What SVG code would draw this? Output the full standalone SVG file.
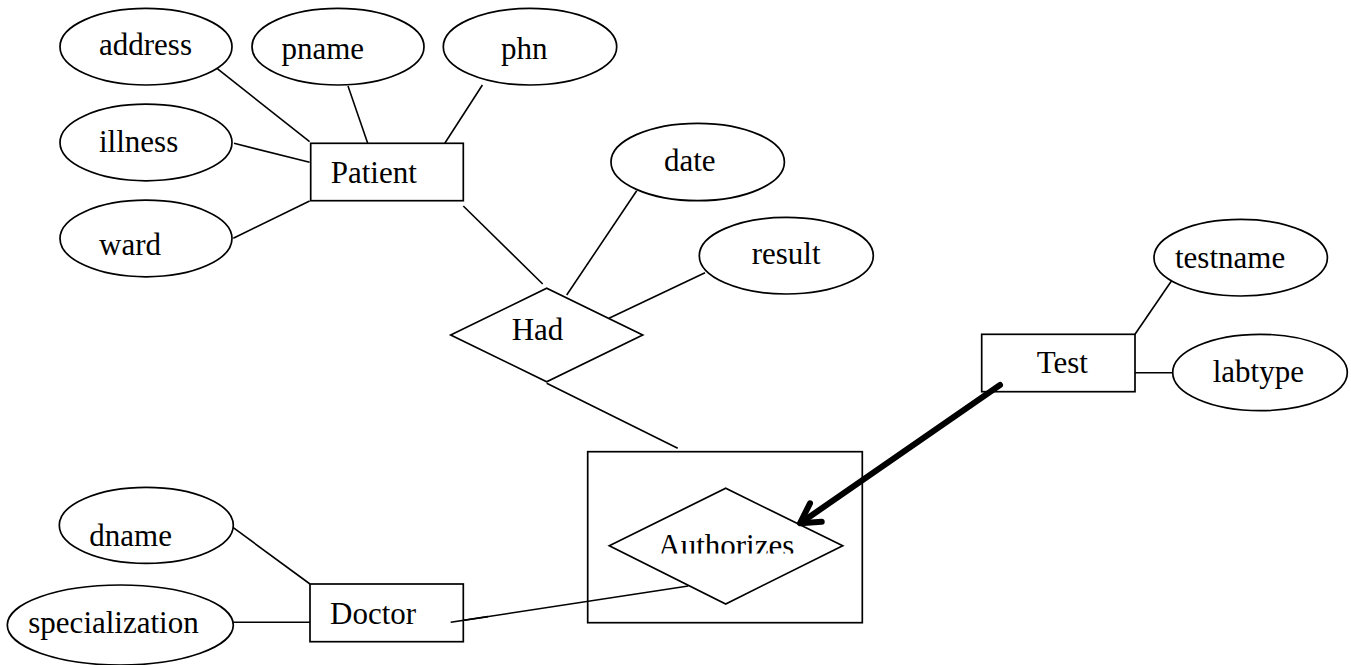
<svg xmlns="http://www.w3.org/2000/svg" width="1351" height="665" viewBox="0 0 1351 665">
<style>
.s{fill:#fff;stroke:#000;stroke-width:1.7}
.o{fill:none;stroke:#000;stroke-width:1.7}
.l{stroke:#000;stroke-width:1.6;fill:none}
.t{font-family:"Liberation Serif","Times New Roman",serif;font-size:31px;fill:#000}
</style>
<defs>
<clipPath id="authClip"><rect x="600" y="480" width="260" height="73.5"/></clipPath>
</defs>
<rect width="1351" height="665" fill="#fff"/>
<g id="connectors">
<line class="l" x1="213.5" y1="65.7" x2="309.6" y2="141.7"/>
<line class="l" x1="348" y1="86" x2="367.7" y2="143.3"/>
<line class="l" x1="482.4" y1="85" x2="444.8" y2="143.3"/>
<line class="l" x1="234" y1="143.3" x2="309.6" y2="162.3"/>
<line class="l" x1="233.3" y1="238.3" x2="309.6" y2="201"/>
<line class="l" x1="463.3" y1="206" x2="542.7" y2="284"/>
<line class="l" x1="636.7" y1="190.7" x2="566.7" y2="295"/>
<line class="l" x1="705" y1="272.7" x2="609" y2="318.3"/>
<line class="l" x1="546.7" y1="383.3" x2="677.7" y2="448.3"/>
<line class="l" x1="1173.3" y1="278.3" x2="1135" y2="334.3"/>
<line class="l" x1="1135" y1="372.7" x2="1172.7" y2="372.7"/>
<line class="l" x1="233.3" y1="527.7" x2="310" y2="584"/>
<line class="l" x1="233.3" y1="622.3" x2="310" y2="622.3"/>
<line class="l" x1="450.7" y1="622.3" x2="688.3" y2="586"/>
</g>
<g id="patient"><rect class="s" x="310.7" y="143.3" width="152.6" height="57.4"/><text class="t" x="330.7" y="183">Patient</text></g>
<g id="address"><ellipse class="s" cx="146" cy="46.7" rx="86" ry="38.3"/><text class="t" x="99" y="55">address</text></g>
<g id="pname"><ellipse class="s" cx="338" cy="46.7" rx="86" ry="38.3"/><text class="t" x="281.5" y="59">pname</text></g>
<g id="phn"><ellipse class="s" cx="530" cy="46.7" rx="86.7" ry="38.3"/><text class="t" x="501" y="59">phn</text></g>
<g id="illness"><ellipse class="s" cx="146" cy="142.5" rx="86" ry="38.3"/><text class="t" x="99" y="152">illness</text></g>
<g id="ward"><ellipse class="s" cx="146" cy="238.5" rx="86" ry="38.3"/><text class="t" x="99" y="255">ward</text></g>
<g id="date"><ellipse class="s" cx="697.7" cy="162" rx="86.7" ry="38.7"/><text class="t" x="664" y="170.7">date</text></g>
<g id="result"><ellipse class="s" cx="786.3" cy="255.7" rx="87" ry="38.3"/><text class="t" x="751.7" y="264">result</text></g>
<g id="had"><polygon class="s" points="450.7,335 546.7,288.3 642.7,335 546.7,381.7"/><text class="t" x="511.7" y="340">Had</text></g>
<g id="authorizes">
<rect class="o" x="587.7" y="451.7" width="274.6" height="171"/>
<polygon class="s" points="609.3,545.7 725.7,488.3 842.7,545.7 725.7,604"/>
<text class="t" x="658.3" y="556" clip-path="url(#authClip)">Authorizes</text>
</g>
<g id="test"><rect class="s" x="981.7" y="334.3" width="153.3" height="57.4"/><text class="t" x="1036.7" y="373.3">Test</text></g>
<g id="testname"><ellipse class="s" cx="1240.7" cy="257.7" rx="86.7" ry="38.3"/><text class="t" x="1175" y="268.3">testname</text></g>
<g id="labtype"><ellipse class="s" cx="1260" cy="372.5" rx="87.3" ry="38.2"/><text class="t" x="1212.7" y="382.3">labtype</text></g>
<g id="doctor"><rect class="s" x="310" y="584" width="153.3" height="57.7"/><text class="t" x="330" y="624">Doctor</text></g>
<g id="dname"><ellipse class="s" cx="146.3" cy="525.3" rx="87" ry="38"/><text class="t" x="89.3" y="545.7">dname</text></g>
<g id="specialization"><ellipse class="s" cx="120.3" cy="625" rx="113" ry="40"/><text class="t" x="28.3" y="633">specialization</text></g>
<g id="doctor-link"><line class="l" x1="450.7" y1="622.3" x2="488" y2="616.6"/></g>
<g id="arrow">
<line x1="1000" y1="385" x2="802" y2="522" stroke="#000" stroke-width="6" stroke-linecap="round"/>
<polyline points="810,503.3 800,523.3 821.7,521.7" fill="none" stroke="#000" stroke-width="6" stroke-linecap="round" stroke-linejoin="round"/>
</g>
</svg>
